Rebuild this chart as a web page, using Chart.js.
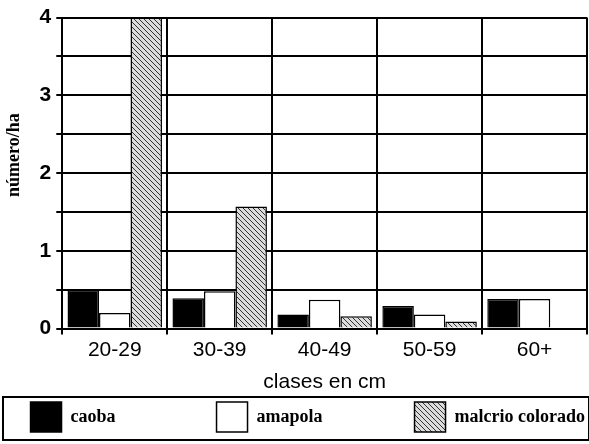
<!DOCTYPE html>
<html>
<head>
<meta charset="utf-8">
<script src="https://cdn.jsdelivr.net/npm/chart.js@4.4.1/dist/chart.umd.min.js"></script>
<style>
  html, body { margin: 0; padding: 0; background: #fff; }
  #wrap { width: 589px; height: 444px; }
</style>
</head>
<body>
<div id="wrap"><canvas id="chart" width="589" height="444"></canvas></div>
<script>
const categories = ['20-29', '30-39', '40-49', '50-59', '60+'];
const caoba = [0.5, 0.39, 0.18, 0.29, 0.38];
const amapola = [0.2, 0.48, 0.37, 0.18, 0.38];
const malcrio = [4, 1.57, 0.16, 0.09, 0];
const yTicks = [0, 1, 2, 3, 4];

// hatched grey fill, like the scanned pattern
function makeHatch() {
    const c = document.createElement('canvas');
    c.width = 5;
    c.height = 5;
    const g = c.getContext('2d');
    g.fillStyle = '#dcdcdc';
    g.fillRect(0, 0, 5, 5);
    g.strokeStyle = '#333';
    g.lineWidth = 1;
    g.beginPath();
    g.moveTo(-1, -1); g.lineTo(6, 6);
    g.moveTo(-4, 1); g.lineTo(4, 9);
    g.moveTo(1, -4); g.lineTo(9, 4);
    g.stroke();
    return g.createPattern(c, 'repeat');
}

// spaces after the legend texts give the wide gaps of the original
const legendGaps = [' '.repeat(22), ' '.repeat(20), ''];

// draws a frame round the legend
const legendBox = {
    id: 'legendBox',
    afterDraw(chart) {
        const lg = chart.legend;
        const ctx = chart.ctx;
        ctx.save();
        ctx.strokeStyle = '#000';
        ctx.lineWidth = 2;
        ctx.strokeRect(3, lg.top - 3, chart.width - 3, 43);
        ctx.restore();
    }
};

const ctx = document.getElementById('chart').getContext('2d');
new Chart(ctx, {
    type: 'bar',
    data: {
        labels: categories,
        datasets: [
            { label: 'caoba', data: caoba, backgroundColor: '#000', borderColor: '#000', borderWidth: 1.5 },
            { label: 'amapola', data: amapola, backgroundColor: '#fff', borderColor: '#000', borderWidth: 1.5 },
            { label: 'malcrio colorado', data: malcrio, backgroundColor: makeHatch(), borderColor: '#000', borderWidth: 1.5 }
        ]
    },
    options: {
        responsive: false,
        animation: false,
        layout: { padding: { left: 4, right: 2, top: 4, bottom: 2 } },
        datasets: { bar: { categoryPercentage: 0.9, barPercentage: 1 } },
        plugins: {
            tooltip: { enabled: false },
            legend: {
                position: 'bottom',
                align: 'end',
                labels: {
                    color: '#000',
                    boxWidth: 31,
                    boxHeight: 30,
                    padding: 2,
                    font: { family: 'Liberation Serif', size: 18, weight: 'bold' },
                    generateLabels(chart) {
                        const items = Chart.defaults.plugins.legend.labels.generateLabels(chart);
                        items.forEach((it, i) => {
                            it.text += legendGaps[i];
                            it.lineWidth = 1.5;
                        });
                        return items;
                    }
                }
            }
        },
        scales: {
            x: {
                grid: { color: '#000', lineWidth: 2, offset: true, tickLength: 6 },
                border: { color: '#000', width: 2 },
                ticks: { color: '#000', padding: 3, font: { family: 'Liberation Sans', size: 21 } },
                title: {
                    display: true,
                    text: 'clases en cm',
                    color: '#000',
                    padding: { top: 4, bottom: 5 },
                    font: { family: 'Liberation Sans', size: 21 }
                }
            },
            y: {
                min: 0,
                max: 4,
                grid: { color: '#000', lineWidth: 2, tickLength: 6 },
                border: { color: '#000', width: 2 },
                ticks: {
                    stepSize: 0.5,
                    color: '#000',
                    padding: 5,
                    font: { family: 'Liberation Sans', size: 21, weight: 'bold' },
                    callback: v => yTicks.includes(v) ? String(v) : ''
                },
                title: {
                    display: true,
                    text: '        número/ha',
                    color: '#000',
                    padding: { top: 0, bottom: 9 },
                    font: { family: 'Liberation Serif', size: 18, weight: 'bold' }
                }
            }
        }
    },
    plugins: [legendBox]
});
</script>
</body>
</html>
